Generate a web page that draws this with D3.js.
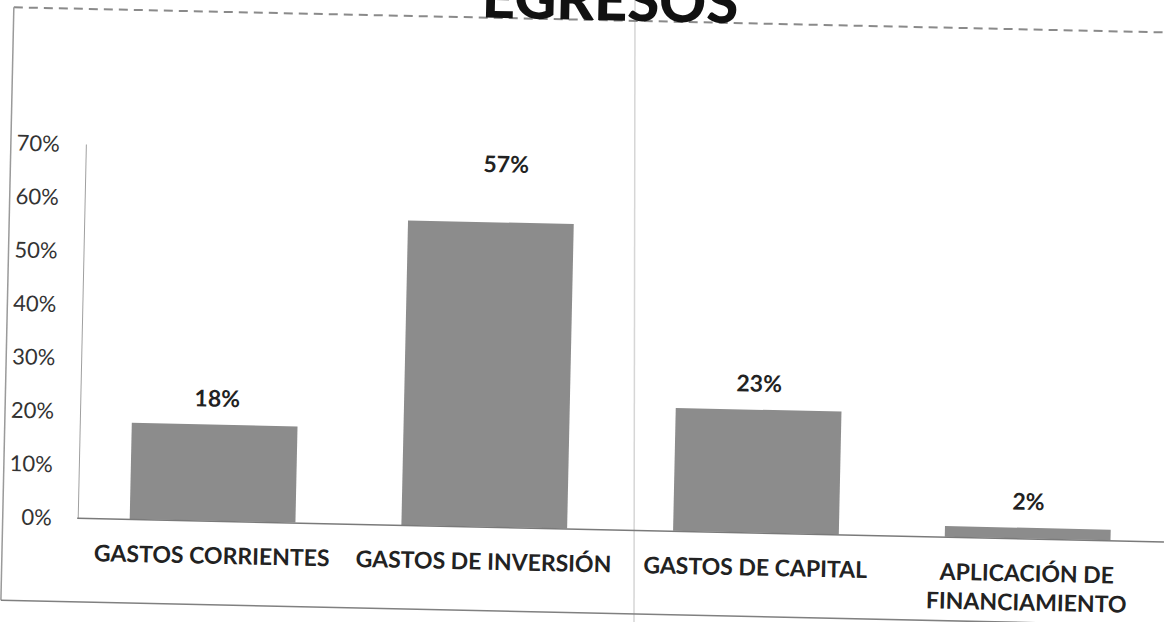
<!DOCTYPE html>
<html>
<head>
<meta charset="utf-8">
<script src="https://cdn.jsdelivr.net/npm/d3@7"></script>
<style>
body { margin: 0; background: #fff; }
text { font-family: Lato, "Open Sans", sans-serif; }
</style>
</head>
<body>
<svg id="chart" width="1167" height="622"></svg>
<script>
var title = "EGRESOS";
var categories = ["GASTOS CORRIENTES", "GASTOS DE INVERSIÓN", "GASTOS DE CAPITAL", "APLICACIÓN DE FINANCIAMIENTO"];
var values = [0.18, 0.57, 0.23, 0.02];
var yTicks = [0, 0.1, 0.2, 0.3, 0.4, 0.5, 0.6, 0.7];

// the scan is tilted a little clockwise
var tilt = 1.25;
var labelNudge = [0, 32, 0, 0];
var labelShift = [2, 14, 0, 0];

var svg = d3.select("#chart");
svg.append("rect").attr("width", 1167).attr("height", 622).attr("fill", "#fff");

// fold mark of the scanned page
svg.append("line")
    .attr("x1", 635).attr("y1", 0).attr("x2", 634).attr("y2", 622)
    .attr("stroke", "#d6d6d6").attr("stroke-width", 1.5);

var g = svg.append("g").attr("transform", "rotate(" + tilt + ")");

// frame
g.append("line").attr("x1", 14).attr("y1", 7).attr("x2", 1300).attr("y2", 7)
    .attr("stroke", "#8a8a8a").attr("stroke-width", 2).attr("stroke-dasharray", "9,6");
g.append("line").attr("x1", 14).attr("y1", 7).attr("x2", 14).attr("y2", 600)
    .attr("stroke", "#9a9a9a").attr("stroke-width", 1.5);
g.append("line").attr("x1", 14).attr("y1", 600).attr("x2", 1300).attr("y2", 600)
    .attr("stroke", "#808080").attr("stroke-width", 1.5);

g.append("text")
    .attr("x", 610).attr("y", 7)
    .attr("text-anchor", "middle")
    .attr("font-size", 58).attr("font-weight", 900)
    .attr("fill", "#111")
    .text(title);

var x = d3.scaleBand().domain(categories).range([88, 1175]).paddingInner(0.39).paddingOuter(0.195);
var y = d3.scaleLinear().domain([0, 0.7]).range([516, 142]);

var yAxis = g.append("g")
    .attr("transform", "translate(89,0)")
    .call(d3.axisLeft(y).tickValues(yTicks).tickFormat(d3.format(".0%")).tickSize(0).tickPadding(26));
yAxis.select(".domain").attr("stroke", "#a0a0a0").attr("stroke-width", 1);
yAxis.selectAll("text")
    .attr("font-family", "Lato, sans-serif")
    .attr("font-size", 22).attr("fill", "#333").attr("dy", "0.35em");

g.selectAll("rect.bar")
    .data(values)
    .enter().append("rect")
    .attr("class", "bar")
    .attr("x", function(d, i) { return x(categories[i]); })
    .attr("y", function(d) { return y(d); })
    .attr("width", x.bandwidth())
    .attr("height", function(d) { return y(0) - y(d); })
    .attr("fill", "#8c8c8c");

var xAxis = g.append("g")
    .attr("transform", "translate(0,516)")
    .call(d3.axisBottom(x).tickSize(0).tickPadding(0));
xAxis.select(".domain").attr("stroke", "#7a7a7a").attr("stroke-width", 1.5);
xAxis.selectAll("text").remove();
xAxis.selectAll(".tick").append("text")
    .attr("text-anchor", "middle")
    .attr("font-family", "Lato, sans-serif")
    .attr("font-size", 23).attr("font-weight", 700).attr("fill", "#222")
    .each(function(d) {
        var t = d3.select(this);
        var words = d.split(" ");
        var lines;
        t.text(d);
        if (this.getComputedTextLength() > x.step() - 4) {
            lines = [words.slice(0, 2).join(" "), words.slice(2).join(" ")];
        } else {
            lines = [d];
        }
        t.text(null);
        lines.forEach(function(line, k) {
            t.append("tspan").attr("x", 0).attr("y", 43 + k * 29).text(line);
        });
    });

g.selectAll("text.value")
    .data(values)
    .enter().append("text")
    .attr("class", "value")
    .attr("x", function(d, i) { return x(categories[i]) + x.bandwidth() / 2 + labelShift[i]; })
    .attr("y", function(d, i) { return y(d) - 18 - labelNudge[i]; })
    .attr("text-anchor", "middle")
    .attr("font-size", 23).attr("font-weight", 700).attr("fill", "#222")
    .text(function(d) { return d3.format(".0%")(d); });
</script>
</body>
</html>
